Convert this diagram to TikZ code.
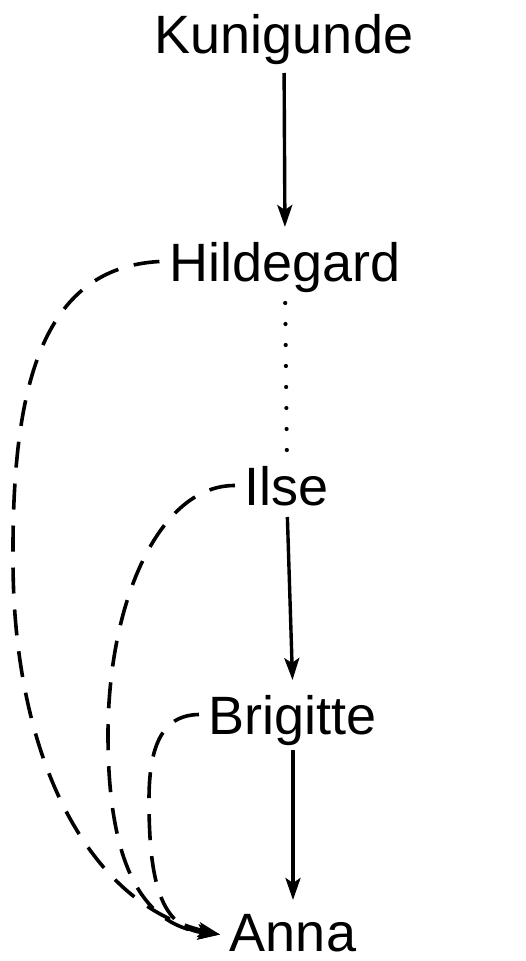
\documentclass[tikz,border=0pt]{standalone}
\usepackage{fontspec}
\setmainfont{Liberation Sans}
\usetikzlibrary{arrows.meta}
\begin{document}
\begin{tikzpicture}[x=1pt,y=-1pt,
  person/.style={inner sep=0pt, outer xsep=10pt, outer ysep=0pt, text height=39pt, text depth=0pt, anchor=base, font=\fontsize{54}{60}\selectfont},
  tipend/.style={-{Stealth[length=22pt,width=15pt,inset=5pt]}},
  solidedge/.style={line width=3.4pt, tipend},
  dottededge/.style={line width=4.2pt, line cap=round, dash pattern=on 0pt off 21pt},
  dashededge/.style={line width=3.6pt, dash pattern=on 26pt off 16pt, tipend},
]
\useasboundingbox (0,0) rectangle (525,961);
\node[person] (K) at (284,53) {Kunigunde};
\node[person] (H) at (285,281) {Hildegard};
\node[person] (I) at (287,505) {Ilse};
\node[person] (B) at (293,734) {Brigitte};
\node[person] (A) at (293,951) {Anna};

\draw[solidedge, shorten <=20pt, shorten >=15pt] (K.south) -- (H.north);
\draw[dottededge, shorten <=22pt, shorten >=12pt] (H.south) -- (I.north);
\draw[solidedge, shorten <=12pt, shorten >=15pt] (I.south) -- (B.north);
\draw[solidedge, shorten <=16pt, shorten >=12pt] (B.south) -- (A.north);

\draw[dashededge] (H.west) .. controls (40,268) and (12,390) .. (13,560)
  .. controls (13,760) and (90,905) .. ([yshift=-3pt]A.west);
\draw[dashededge] (I.west) .. controls (160,485) and (108,600) .. (108,735)
  .. controls (108,860) and (140,925) .. ([yshift=-3pt]A.west);
\draw[dashededge] (B.west) .. controls (160,715) and (149,750) .. (149,800)
  .. controls (149,880) and (160,928) .. ([yshift=-3pt]A.west);
\end{tikzpicture}
\end{document}
